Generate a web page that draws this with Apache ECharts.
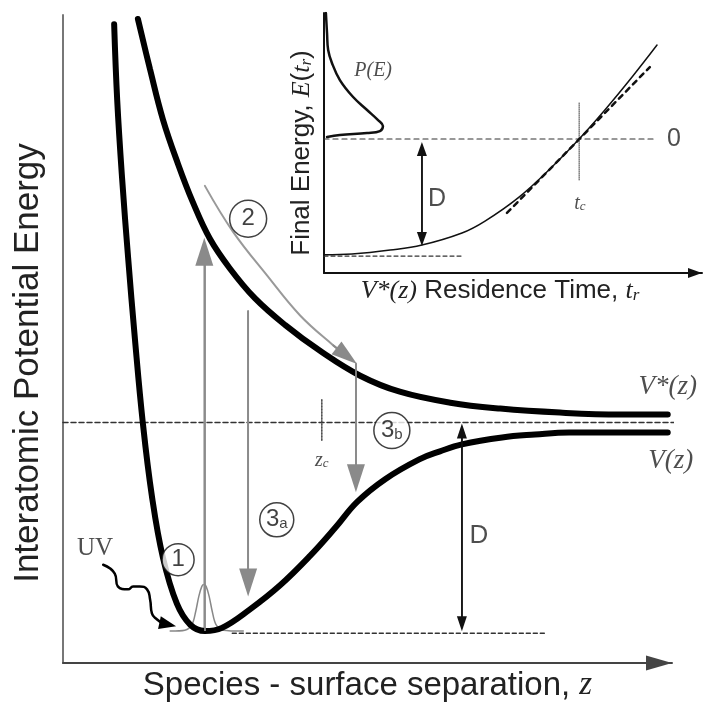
<!DOCTYPE html>
<html>
<head>
<meta charset="utf-8">
<script src="https://cdn.jsdelivr.net/npm/echarts@6/dist/echarts.min.js"></script>
<style>
html, body { margin: 0; padding: 0; background: #fff; }
#chart { width: 704px; height: 707px; }
</style>
</head>
<body>
<div id="chart"></div>
<script>
var chart = echarts.init(document.getElementById('chart'));

// ---- main panel: separation z (0-10), energy in units of D, 0 = dissociation limit
var groundCurve = [[0.84, 1.89], [0.89, 1.53], [0.97, 1.16], [1.07, 0.78], [1.18, 0.40], [1.31, 0],
  [1.46, -0.35], [1.64, -0.64], [1.87, -0.86], [2.09, -0.96], [2.33, -0.99], [2.61, -0.975],
  [3.07, -0.887], [3.56, -0.774], [4.06, -0.632], [4.47, -0.5], [4.83, -0.377], [5.29, -0.269],
  [5.85, -0.175], [6.19, -0.137], [6.55, -0.104], [7.21, -0.071], [7.75, -0.057], [8.31, -0.047], [9.93, -0.047]];
var excitedCurve = [[1.23, 1.915], [1.43, 1.675], [1.64, 1.439], [1.89, 1.226], [2.13, 1.047], [2.41, 0.873],
  [2.74, 0.731], [3.15, 0.59], [3.65, 0.462], [4.22, 0.34], [4.88, 0.222], [5.53, 0.146],
  [6.36, 0.094], [7.18, 0.066], [8.16, 0.047], [9.15, 0.038], [9.93, 0.038]];
var dissociationLine = [[0, 0], [10.08, 0]];
var wellFloorLine = [[2.78, -1], [7.92, -1]];
var wavePacket = [[1.76, -0.99], [2.0, -0.986], [2.12, -0.958], [2.18, -0.896], [2.23, -0.825], [2.28, -0.778],
  [2.315, -0.769], [2.35, -0.778], [2.4, -0.825], [2.45, -0.896], [2.51, -0.958], [2.63, -0.986], [2.96, -0.99]];
var excitationArrow = [[2.32, -0.99], [2.32, 0.81]];
var quenchArrowA = [[3.04, 0.53], [3.04, -0.76]];
var quenchArrowB = [[4.81, 0.28], [4.81, -0.265]];
var excitedPath = [[2.33, 1.123], [2.79, 0.906], [3.35, 0.698], [3.89, 0.509], [4.43, 0.368], [4.66, 0.316]];
var uvWave = [[0.66, -0.675], [0.85, -0.717], [0.9, -0.778], [1.07, -0.792], [1.15, -0.778], [1.26, -0.778],
  [1.38, -0.792], [1.43, -0.84], [1.46, -0.906], [1.54, -0.934], [1.64, -0.953], [1.72, -0.958]];
var depthArrow = [[6.55, -0.04], [6.55, -0.955]];
var zcMarker = [[4.25, 0.108], [4.25, -0.085]];
var stepPos = [[1.89, -0.651], [3.04, 0.967], [3.51, -0.462], [5.40, -0.038]];
var stepText = ['1', '2', '3{s|a}', '3{s|b}'];
var stepSize = [32, 37, 34, 36];

// ---- inset: residence time t (0-10), final energy in units of D
var finalEnergy = [[0, -0.99], [0.74, -0.983], [1.75, -0.949], [2.59, -0.906], [3.65, -0.803], [4.26, -0.701],
  [5.16, -0.496], [6.03, -0.239], [6.75, 0], [7.43, 0.248], [8.15, 0.53], [8.81, 0.803]];
var energyDist = [[0.05, 1.077], [0.08, 0.906], [0.11, 0.761], [0.21, 0.65], [0.42, 0.504], [0.77, 0.359],
  [1.14, 0.248], [1.43, 0.162], [1.56, 0.111], [1.48, 0.068], [1.14, 0.051], [0.42, 0.034], [0.08, 0.017]];
var zeroLine = [[0, 0], [8.76, 0]];
var boundLine = [[0, -1], [3.7, -1]];
var tangentLine = [[4.84, -0.632], [8.62, 0.615]];
var tcMarker = [[6.75, 0.308], [6.75, -0.35]];
var insetDepthArrow = [[2.59, -0.085], [2.59, -0.855]];

var sans = 'Liberation Sans', serif = 'Liberation Serif';

function line(axis, data, color, width, dash, extra) {
  var s = {
    type: 'line', xAxisIndex: axis, yAxisIndex: axis, data: data,
    symbol: 'none', silent: true, animation: false, z: 3,
    lineStyle: { color: color, width: width, type: dash || 'solid', cap: 'round' }
  };
  for (var k in extra) s[k] = extra[k];
  return s;
}

function head(from, to, size, color, width, both) {
  var a = { coord: from }, b = { coord: to, symbolSize: size };
  if (both) a.symbolSize = size;
  return {
    silent: true, animation: false,
    symbol: [both ? 'triangle' : 'none', 'triangle'],
    label: { show: false }, emphasis: { disabled: true },
    lineStyle: { color: color, width: width, type: 'solid' },
    data: [[a, b]]
  };
}

function textItem(pos, text, font, size, italic) {
  return {
    value: pos,
    label: {
      formatter: text, fontFamily: font, fontSize: size, fontStyle: italic ? 'italic' : 'normal',
      rich: { s: { fontFamily: font, fontStyle: italic ? 'italic' : 'normal', fontSize: Math.round(size * 0.65), color: '#222', verticalAlign: 'bottom' } }
    }
  };
}

function labels(axis, items) {
  return {
    type: 'scatter', xAxisIndex: axis, yAxisIndex: axis, silent: true, animation: false, z: 7,
    symbolSize: 1, itemStyle: { color: 'rgba(0,0,0,0)' },
    label: { show: true, position: 'inside', color: '#222' },
    data: items
  };
}

var option = {
  animation: false,
  backgroundColor: '#fff',
  grid: [
    { left: 63, top: 15, width: 609, height: 652 },
    { left: 324, top: 13, width: 378, height: 260 }
  ],
  xAxis: [
    {
      gridIndex: 0, type: 'value', min: 0, max: 10,
      axisLine: { onZero: false, lineStyle: { color: '#444', width: 2 }, symbol: ['none', 'triangle'], symbolSize: [15, 26], symbolOffset: [0, -13] },
      axisTick: { show: false }, axisLabel: { show: false }, splitLine: { show: false },
      name: 'Species - surface separation, {i|z}', nameLocation: 'middle', nameGap: 6,
      nameTextStyle: { fontFamily: sans, fontSize: 33, color: '#222', rich: { i: { fontFamily: serif, fontStyle: 'italic', fontSize: 33, color: '#222' } } }
    },
    {
      gridIndex: 1, type: 'value', min: 0, max: 10,
      axisLine: { onZero: false, lineStyle: { color: '#111', width: 2 }, symbol: ['none', 'triangle'], symbolSize: [10, 14], symbolOffset: [0, -7] },
      axisTick: { show: false }, axisLabel: { show: false }, splitLine: { show: false },
      name: '{i|V*(z)} Residence Time, {i|t}{s|r}', nameLocation: 'middle', nameGap: 5,
      nameTextStyle: {
        fontFamily: sans, fontSize: 26, color: '#222', padding: [0, 26, 0, 0],
        rich: {
          i: { fontFamily: serif, fontStyle: 'italic', fontSize: 26, color: '#222' },
          s: { fontFamily: serif, fontStyle: 'italic', fontSize: 17, color: '#222', verticalAlign: 'bottom' }
        }
      }
    }
  ],
  yAxis: [
    {
      gridIndex: 0, type: 'value', min: -1.1415, max: 1.934,
      axisLine: { onZero: false, lineStyle: { color: '#777', width: 2 } },
      axisTick: { show: false }, axisLabel: { show: false }, splitLine: { show: false },
      name: 'Interatomic Potential Energy', nameLocation: 'middle', nameGap: 17,
      nameTextStyle: { fontFamily: sans, fontSize: 35, color: '#222', padding: [0, 48, 0, 0] }
    },
    {
      gridIndex: 1, type: 'value', min: -1.145, max: 1.077,
      axisLine: { onZero: false, lineStyle: { color: '#111', width: 2 } },
      axisTick: { show: false }, axisLabel: { show: false }, splitLine: { show: false },
      name: 'Final Energy, {i|E}({i|t}{s|r})', nameLocation: 'middle', nameGap: 9,
      nameTextStyle: {
        fontFamily: sans, fontSize: 26, color: '#222', padding: [0, 20, 0, 0],
        rich: {
          i: { fontFamily: serif, fontStyle: 'italic', fontSize: 26, color: '#222' },
          s: { fontFamily: serif, fontStyle: 'italic', fontSize: 17, color: '#222', verticalAlign: 'bottom' }
        }
      }
    }
  ],
  series: [
    // main panel
    line(0, dissociationLine, '#333', 1.5, [5, 3], { clip: false }),
    line(0, wellFloorLine, '#333', 1.5, [4, 3]),
    line(0, wavePacket, '#888', 1.5, null, { smooth: 0.3 }),
    line(0, excitationArrow, '#999', 1.8, null, { markLine: head(excitationArrow[0], excitationArrow[1], [18, 28], '#8a8a8a', 1.8) }),
    line(0, quenchArrowA, '#999', 1.8, null, { markLine: head(quenchArrowA[0], quenchArrowA[1], [18, 28], '#8a8a8a', 1.8) }),
    line(0, quenchArrowB, '#999', 1.8, null, { markLine: head(quenchArrowB[0], quenchArrowB[1], [18, 28], '#8a8a8a', 1.8) }),
    line(0, excitedPath, '#999', 2, null, { smooth: 0.4, markLine: head(excitedPath[4], excitedPath[5], [16, 26], '#8a8a8a', 2) }),
    line(0, groundCurve, '#000', 6, null, { smooth: 0.4, z: 4 }),
    line(0, excitedCurve, '#000', 6, null, { smooth: 0.4, z: 4 }),
    line(0, uvWave, '#000', 2.5, null, { smooth: 0.5, markLine: head(uvWave[10], uvWave[11], [13, 17], '#000', 2.5) }),
    line(0, depthArrow, '#111', 1.5, null, { markLine: head(depthArrow[0], depthArrow[1], [10, 15], '#111', 1.5, true) }),
    line(0, zcMarker, '#444', 1.5, 'dotted'),
    {
      type: 'scatter', xAxisIndex: 0, yAxisIndex: 0, silent: true, animation: false, z: 6,
      symbol: 'circle',
      itemStyle: { color: '#fff', borderColor: '#111', borderWidth: 1.5 },
      label: {
        show: true, position: 'inside', color: '#111', fontFamily: sans, fontSize: 24,
        rich: { s: { fontFamily: sans, fontSize: 15, color: '#111', verticalAlign: 'bottom' } }
      },
      data: stepPos.map(function (p, i) {
        return { value: p, symbolSize: stepSize[i], label: { formatter: stepText[i] } };
      })
    },
    labels(0, [
      textItem([9.93, 0.17], 'V*(z)', serif, 27, true),
      textItem([9.98, -0.18], 'V(z)', serif, 27, true),
      textItem([6.83, -0.54], 'D', sans, 26, false),
      textItem([0.525, -0.6], 'UV', serif, 25, false),
      textItem([4.25, -0.18], 'z{s|c}', serif, 20, true)
    ]),
    // inset
    line(1, zeroLine, '#333', 1.2, [5, 4]),
    line(1, boundLine, '#333', 1.2, [4, 3]),
    line(1, tangentLine, '#111', 2.5, [5, 5]),
    line(1, tcMarker, '#444', 1, 'dotted'),
    line(1, finalEnergy, '#111', 1.5, null, { smooth: 0.4 }),
    line(1, energyDist, '#111', 2.5, null, { smooth: 0.4 }),
    line(1, insetDepthArrow, '#111', 1.5, null, { markLine: head(insetDepthArrow[0], insetDepthArrow[1], [10, 14], '#111', 1.5, true) }),
    labels(1, [
      textItem([9.26, 0], '0', sans, 25, false),
      textItem([2.99, -0.51], 'D', sans, 25, false),
      textItem([1.3, 0.58], 'P(E)', serif, 20, true),
      textItem([6.77, -0.55], 't{s|c}', serif, 20, true)
    ])
  ]
};

chart.setOption(option);
</script>
</body>
</html>
